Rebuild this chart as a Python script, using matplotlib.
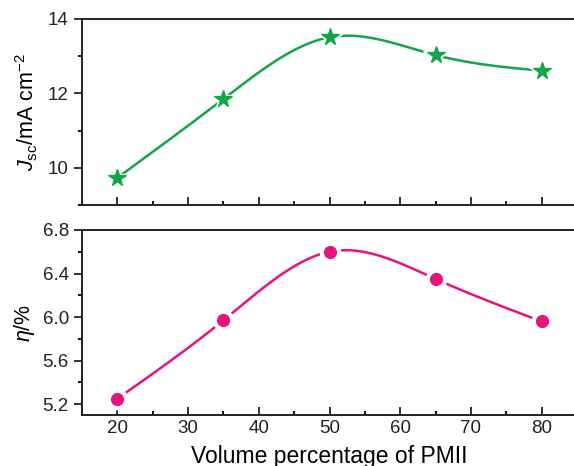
import numpy as np
import matplotlib
matplotlib.use("Agg")
import matplotlib.pyplot as plt
from matplotlib.ticker import MultipleLocator

plt.rcParams["font.family"] = ["Liberation Sans", "DejaVu Sans"]
plt.rcParams["mathtext.fontset"] = "custom"
plt.rcParams["mathtext.rm"] = "Liberation Sans"
plt.rcParams["mathtext.it"] = "Liberation Sans:italic"

# PMII volume fraction (%) vs. cell performance
pmii = [20, 35, 50, 65, 80]
jsc = [9.73, 11.85, 13.51, 13.03, 12.61]
eta = [5.25, 5.97, 6.60, 6.35, 5.96]

GREEN = "#12a54a"
PINK = "#e6137f"


def natural_spline(x, y, n=300):
    # natural cubic spline through the points, for the smooth connecting line
    x = np.asarray(x, float); y = np.asarray(y, float)
    h = np.diff(x)
    m = len(x)
    A = np.zeros((m, m)); b = np.zeros(m)
    A[0, 0] = A[-1, -1] = 1
    for i in range(1, m - 1):
        A[i, i - 1] = h[i - 1]
        A[i, i] = 2 * (h[i - 1] + h[i])
        A[i, i + 1] = h[i]
        b[i] = 3 * ((y[i + 1] - y[i]) / h[i] - (y[i] - y[i - 1]) / h[i - 1])
    c = np.linalg.solve(A, b)
    xs = np.linspace(x[0], x[-1], n)
    k = np.clip(np.searchsorted(x, xs) - 1, 0, m - 2)
    dx = xs - x[k]
    bb = (y[k + 1] - y[k]) / h[k] - h[k] * (2 * c[k] + c[k + 1]) / 3
    dd = (c[k + 1] - c[k]) / (3 * h[k])
    return xs, y[k] + bb * dx + c[k] * dx ** 2 + dd * dx ** 3


fig = plt.figure(figsize=(5.74, 4.66), dpi=100)
W, H = 574, 466
ax1 = fig.add_axes([82 / W, 1 - 205 / H, (577 - 82) / W, (205 - 19) / H])
ax2 = fig.add_axes([82 / W, 1 - 415 / H, (577 - 82) / W, (415 - 230) / H])

for ax, y, color, marker, ms in [(ax1, jsc, GREEN, "*", 13), (ax2, eta, PINK, "o", 8.5)]:
    xs, ys = natural_spline(pmii, y)
    ax.plot(xs, ys, color=color, lw=1.8, zorder=2)
    # white halo so the line stops short of each marker
    ax.plot(pmii, y, ls="none", marker=marker, ms=ms + 6, color="white", zorder=3)
    ax.plot(pmii, y, ls="none", marker=marker, ms=ms, color=color, mec=color, zorder=4)
    ax.set_xlim(15, 85)
    ax.xaxis.set_major_locator(MultipleLocator(10))
    ax.xaxis.set_minor_locator(MultipleLocator(5))
    ax.tick_params(axis="x", which="major", direction="in", length=6, width=1.3)
    ax.tick_params(axis="x", which="minor", direction="in", length=3, width=1.3)
    ax.tick_params(axis="y", which="major", direction="out", length=6, width=1.3)
    ax.tick_params(axis="y", which="minor", direction="out", length=3, width=1.3)
    ax.tick_params(labelsize=13.5, colors="#222222")
    for sp in ax.spines.values():
        sp.set_linewidth(1.4)
        sp.set_color("#222222")

ax1.set_ylim(9, 14)
ax1.yaxis.set_major_locator(MultipleLocator(2))
ax1.yaxis.set_minor_locator(MultipleLocator(1))
ax1.tick_params(axis="x", labelbottom=False)
ax1.set_ylabel(r"$J_{\rm sc}$/mA cm$^{-2}$", fontsize=15.5, labelpad=6)

ax2.set_ylim(5.1, 6.8)
ax2.set_yticks([5.2, 5.6, 6.0, 6.4, 6.8])
ax2.yaxis.set_minor_locator(MultipleLocator(0.2))
ax2.set_ylabel(r"$\eta$/%", fontsize=15.5, labelpad=4)
ax2.set_xlabel("Volume percentage of PMII", fontsize=16.5, labelpad=6)

fig.savefig("out.png", dpi=100)
